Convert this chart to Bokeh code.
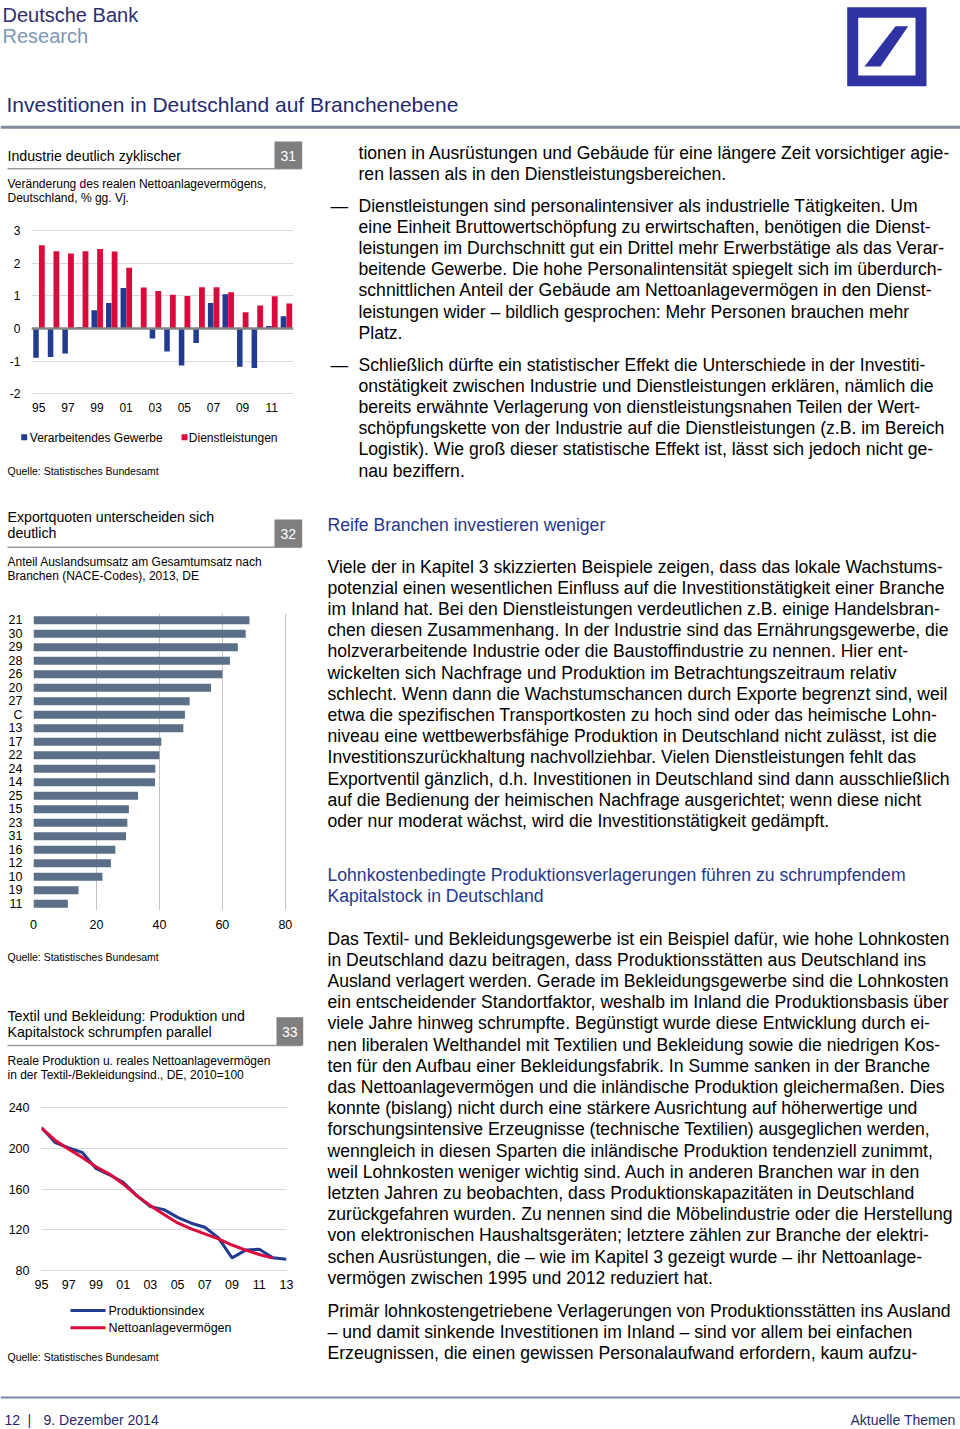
from bokeh.plotting import figure
from bokeh.layouts import column, row
from bokeh.models import Range1d, FactorRange, FixedTicker, CustomJSTickFormatter, Span, ColumnDataSource
from bokeh.transform import dodge
from bokeh.core.properties import value
from bokeh.embed import file_html
from bokeh.resources import INLINE

# ---------------- data ----------------
years31 = list(range(1995, 2013))
manuf31 = [-0.89, -0.87, -0.76, 0.05, 0.56, 0.78, 1.24, 0.0, -0.30, -0.70,
           -1.13, -0.44, 0.78, 1.05, -1.17, -1.21, 0.08, 0.38]
serv31 = [2.55, 2.37, 2.30, 2.37, 2.44, 2.36, 1.86, 1.26, 1.15, 1.04,
          1.00, 1.27, 1.27, 1.11, 0.50, 0.71, 0.99, 0.77]
ticks31_x = [1995, 1997, 1999, 2001, 2003, 2005, 2007, 2009, 2011]
ticks31_y = [-2, -1, 0, 1, 2, 3]

codes32 = ["21", "30", "29", "28", "26", "20", "27", "C", "13", "17", "22",
           "24", "14", "25", "15", "23", "31", "16", "12", "10", "19", "11"]
share32 = [68.6, 67.4, 64.9, 62.4, 60.0, 56.4, 49.6, 48.1, 47.6, 40.6, 40.0,
           38.7, 38.6, 33.2, 30.3, 29.8, 29.4, 26.0, 24.6, 21.9, 14.3, 10.9]
ticks32_x = [0, 20, 40, 60, 80]

years33 = list(range(1995, 2014))
prod33 = [220.4, 205.7, 200.5, 195.9, 180.2, 174.0, 166.5, 153.5, 142.7, 139.8,
          132.2, 126.4, 122.4, 112.0, 92.4, 100.0, 100.8, 92.4, 91.1]
years33n = list(range(1995, 2013))
nav33 = [219.8, 208.0, 199.2, 191.0, 181.9, 174.7, 165.0, 153.5, 143.7, 134.9,
         126.7, 120.8, 116.0, 111.0, 105.0, 100.0, 95.7, 92.1]
ticks33_x = list(range(1995, 2014, 2))
ticks33_y = [80, 120, 160, 200, 240]

FONT = "Liberation Sans"
BLUE = "#213b90"
RED = "#dc0a3c"
NAVY = "#1f2a72"
HEAD = "#26388c"
SLATE = "#5b6f88"
GRID = "#d9d9d9"

# ---------------- helpers ----------------
def canvas(w, h):
    p = figure(width=w, height=h, x_range=Range1d(0, w), y_range=Range1d(h, 0),
               output_backend="svg", toolbar_location=None, min_border=0,
               x_axis_location=None, y_axis_location=None, title=None)
    p.grid.visible = False
    p.outline_line_color = None
    p.background_fill_color = "white"
    p.border_fill_color = "white"
    p.frame_align = False
    return p


def txt(p, x, y, s, size, color="#000000", align="left", baseline="middle"):
    p.text(x=[x], y=[y], text=[s], text_font=value(FONT), text_font_size=f"{size}px",
           text_color=color, text_align=align, text_baseline=baseline)


def lines(p, x, y0, rows, size=17.6, step=21.2, color="#000000"):
    p.text(x=[x] * len(rows), y=[y0 + i * step for i in range(len(rows))], text=rows,
           text_font=value(FONT), text_font_size=f"{size}px", text_color=color,
           text_align="left", text_baseline="middle")


def chart_head(p, title_rows, title_y, box, num, line_y, sub_rows, sub_y):
    for i, t in enumerate(title_rows):
        txt(p, 7, title_y + i * 16, t, 14.2)
    p.segment(x0=[7], y0=[line_y], x1=[301], y1=[line_y], line_color="#9b9b9b", line_width=1.6)
    l, t_, r, b = box
    p.quad(left=[l], right=[r], top=[t_], bottom=[b], fill_color="#7f7f7f", line_color=None)
    txt(p, (l + r) / 2, (t_ + b) / 2 + 0.5, num, 14, "#ffffff", "center", "middle")
    for i, t in enumerate(sub_rows):
        txt(p, 7, sub_y + i * 14.2, t, 12)


def style_axes(p, size):
    for ax in p.axis:
        ax.axis_line_color = None
        ax.major_tick_line_color = None
        ax.minor_tick_line_color = None
        ax.major_tick_out = 0
        ax.major_tick_in = 0
        ax.major_label_text_font = FONT
        ax.major_label_text_font_size = size
        ax.major_label_text_color = "#000000"
    p.outline_line_color = None
    p.background_fill_color = "white"
    p.border_fill_color = "white"
    p.frame_align = False


# ---------------- header ----------------
hdr = canvas(960, 137)
txt(hdr, 2, 14.2, "Deutsche Bank", 20, "#2e2d6e")
txt(hdr, 2, 35.5, "Research", 20, "#7b98b6")
txt(hdr, 6, 103.5, "Investitionen in Deutschland auf Branchenebene", 21, NAVY)
hdr.segment(x0=[0], y0=[126.8], x1=[960], y1=[126.8], line_color="#7f8a9a", line_width=3)
hdr.quad(left=[846.7], right=[926], top=[6.7], bottom=[85.7], fill_color="#2f33a2", line_color=None)
hdr.quad(left=[857.7], right=[915], top=[17.3], bottom=[75], fill_color="white", line_color=None)
hdr.patch(x=[864, 880, 907.7, 895], y=[66, 66, 25.7, 25.7], fill_color="#2f33a2", line_color=None)

# ---------------- chart 31 ----------------
t31 = canvas(318, 85)
chart_head(t31, ["Industrie deutlich zyklischer"], 18, (274, 4, 301.7, 31.3), "31", 31.3,
           ["Veränderung des realen Nettoanlagevermögens,", "Deutschland, % gg. Vj."], 46.3)

src31 = ColumnDataSource(dict(year=years31, manuf=manuf31, serv=serv31))
p31 = figure(width=318, height=203, x_range=Range1d(1994.5, 2012.5), y_range=Range1d(-2.05, 3.25),
             output_backend="svg", toolbar_location=None, title=None,
             min_border_left=31, min_border_right=25, min_border_top=0, min_border_bottom=30)
p31.vbar(x=dodge("year", -0.19), top="manuf", bottom=0, width=0.38, source=src31,
         fill_color=BLUE, line_color=None)
p31.vbar(x=dodge("year", 0.21), top="serv", bottom=0, width=0.40, source=src31,
         fill_color=RED, line_color=None)
p31.add_layout(Span(location=0, dimension="width", line_color="#858585", line_width=2.5))
p31.xaxis.ticker = FixedTicker(ticks=ticks31_x)
p31.xaxis.formatter = CustomJSTickFormatter(code="return String(tick).slice(2);")
p31.yaxis.ticker = FixedTicker(ticks=ticks31_y)
p31.yaxis.formatter = CustomJSTickFormatter(code="return String(tick);")
p31.xgrid.visible = False
p31.ygrid.grid_line_color = GRID
style_axes(p31, "12px")
p31.xaxis.major_label_standoff = 7
p31.yaxis.major_label_standoff = 11

b31 = canvas(318, 65)
b31.quad(left=[20.7], right=[26.7], top=[8.7], bottom=[14.7], fill_color=BLUE, line_color=None)
txt(b31, 29.3, 12, "Verarbeitendes Gewerbe", 12)
b31.quad(left=[181], right=[187], top=[8.7], bottom=[14.7], fill_color=RED, line_color=None)
txt(b31, 188.3, 12, "Dienstleistungen", 12)
txt(b31, 7, 45, "Quelle: Statistisches Bundesamt", 10.5)

# ---------------- chart 32 ----------------
t32 = canvas(318, 116)
chart_head(t32, ["Exportquoten unterscheiden sich", "deutlich"], 26.7, (274, 29, 301.7, 56.7), "32", 56.7,
           ["Anteil Auslandsumsatz am Gesamtumsatz nach", "Branchen (NACE-Codes), 2013, DE"], 71.7)

src32 = ColumnDataSource(dict(code=codes32, share=share32))
p32 = figure(width=318, height=334, x_range=Range1d(0, 81), y_range=FactorRange(factors=codes32[::-1]),
             output_backend="svg", toolbar_location=None, title=None,
             min_border_left=33, min_border_right=30, min_border_top=7, min_border_bottom=30)
p32.hbar(y="code", right="share", left=0, height=0.6, source=src32, fill_color=SLATE, line_color=None)
p32.xaxis.ticker = FixedTicker(ticks=ticks32_x)
p32.ygrid.visible = False
p32.xgrid.grid_line_color = "#c4c4c4"
style_axes(p32, "12.5px")
p32.xaxis.major_label_standoff = 9
p32.yaxis.major_label_standoff = 11

b32 = canvas(318, 35)
txt(b32, 7, 16, "Quelle: Statistisches Bundesamt", 10.5)

# ---------------- chart 33 ----------------
t33 = canvas(318, 124)
chart_head(t33, ["Textil und Bekleidung: Produktion und", "Kapitalstock schrumpfen parallel"], 40,
           (276, 41.7, 302.7, 70), "33", 70,
           ["Reale Produktion u. reales Nettoanlagevermögen", "in der Textil-/Bekleidungsind., DE, 2010=100"], 85.7)

p33 = figure(width=318, height=201, x_range=Range1d(1995, 2013), y_range=Range1d(78, 246),
             output_backend="svg", toolbar_location=None, title=None,
             min_border_left=41, min_border_right=32, min_border_top=2, min_border_bottom=28)
p33.line(years33, prod33, line_color=BLUE, line_width=3)
p33.line(years33n, nav33, line_color=RED, line_width=3)
p33.xaxis.ticker = FixedTicker(ticks=ticks33_x)
p33.xaxis.formatter = CustomJSTickFormatter(code="return String(tick).slice(2);")
p33.yaxis.ticker = FixedTicker(ticks=ticks33_y)
p33.xgrid.visible = False
p33.ygrid.grid_line_color = GRID
style_axes(p33, "12.5px")
p33.xaxis.major_label_standoff = 7
p33.yaxis.major_label_standoff = 12

b33 = canvas(318, 90)
b33.segment(x0=[70, 70], y0=[10, 27.3], x1=[105, 105], y1=[10, 27.3], line_color=[BLUE, RED], line_width=3)
txt(b33, 108, 10.3, "Produktionsindex", 12.5)
txt(b33, 108, 27.6, "Nettoanlagevermögen", 12.5)
txt(b33, 7, 56.7, "Quelle: Statistisches Bundesamt", 10.5)

# ---------------- right text column ----------------
rt = canvas(642, 1253)
OY = 137
OX = 318
lines(rt, 358 - OX, 152 - OY, [
    "tionen in Ausrüstungen und Gebäude für eine längere Zeit vorsichtiger agie-",
    "ren lassen als in den Dienstleistungsbereichen.",
])
txt(rt, 330 - OX, 205 - OY, "—", 17.6)
lines(rt, 358 - OX, 205 - OY, [
    "Dienstleistungen sind personalintensiver als industrielle Tätigkeiten. Um",
    "eine Einheit Bruttowertschöpfung zu erwirtschaften, benötigen die Dienst-",
    "leistungen im Durchschnitt gut ein Drittel mehr Erwerbstätige als das Verar-",
    "beitende Gewerbe. Die hohe Personalintensität spiegelt sich im überdurch-",
    "schnittlichen Anteil der Gebäude am Nettoanlagevermögen in den Dienst-",
    "leistungen wider – bildlich gesprochen: Mehr Personen brauchen mehr",
    "Platz.",
])
txt(rt, 330 - OX, 364 - OY, "—", 17.6)
lines(rt, 358 - OX, 364 - OY, [
    "Schließlich dürfte ein statistischer Effekt die Unterschiede in der Investiti-",
    "onstätigkeit zwischen Industrie und Dienstleistungen erklären, nämlich die",
    "bereits erwähnte Verlagerung von dienstleistungsnahen Teilen der Wert-",
    "schöpfungskette von der Industrie auf die Dienstleistungen (z.B. im Bereich",
    "Logistik). Wie groß dieser statistische Effekt ist, lässt sich jedoch nicht ge-",
    "nau beziffern.",
])
lines(rt, 327 - OX, 524 - OY, ["Reife Branchen investieren weniger"], color=HEAD)
lines(rt, 327 - OX, 566 - OY, [
    "Viele der in Kapitel 3 skizzierten Beispiele zeigen, dass das lokale Wachstums-",
    "potenzial einen wesentlichen Einfluss auf die Investitionstätigkeit einer Branche",
    "im Inland hat. Bei den Dienstleistungen verdeutlichen z.B. einige Handelsbran-",
    "chen diesen Zusammenhang. In der Industrie sind das Ernährungsgewerbe, die",
    "holzverarbeitende Industrie oder die Baustoffindustrie zu nennen. Hier ent-",
    "wickelten sich Nachfrage und Produktion im Betrachtungszeitraum relativ",
    "schlecht. Wenn dann die Wachstumschancen durch Exporte begrenzt sind, weil",
    "etwa die spezifischen Transportkosten zu hoch sind oder das heimische Lohn-",
    "niveau eine wettbewerbsfähige Produktion in Deutschland nicht zulässt, ist die",
    "Investitionszurückhaltung nachvollziehbar. Vielen Dienstleistungen fehlt das",
    "Exportventil gänzlich, d.h. Investitionen in Deutschland sind dann ausschließlich",
    "auf die Bedienung der heimischen Nachfrage ausgerichtet; wenn diese nicht",
    "oder nur moderat wächst, wird die Investitionstätigkeit gedämpft.",
])
lines(rt, 327 - OX, 874 - OY, [
    "Lohnkostenbedingte Produktionsverlagerungen führen zu schrumpfendem",
    "Kapitalstock in Deutschland",
], color=HEAD)
lines(rt, 327 - OX, 938 - OY, [
    "Das Textil- und Bekleidungsgewerbe ist ein Beispiel dafür, wie hohe Lohnkosten",
    "in Deutschland dazu beitragen, dass Produktionsstätten aus Deutschland ins",
    "Ausland verlagert werden. Gerade im Bekleidungsgewerbe sind die Lohnkosten",
    "ein entscheidender Standortfaktor, weshalb im Inland die Produktionsbasis über",
    "viele Jahre hinweg schrumpfte. Begünstigt wurde diese Entwicklung durch ei-",
    "nen liberalen Welthandel mit Textilien und Bekleidung sowie die niedrigen Kos-",
    "ten für den Aufbau einer Bekleidungsfabrik. In Summe sanken in der Branche",
    "das Nettoanlagevermögen und die inländische Produktion gleichermaßen. Dies",
    "konnte (bislang) nicht durch eine stärkere Ausrichtung auf höherwertige und",
    "forschungsintensive Erzeugnisse (technische Textilien) ausgeglichen werden,",
    "wenngleich in diesen Sparten die inländische Produktion tendenziell zunimmt,",
    "weil Lohnkosten weniger wichtig sind. Auch in anderen Branchen war in den",
    "letzten Jahren zu beobachten, dass Produktionskapazitäten in Deutschland",
    "zurückgefahren wurden. Zu nennen sind die Möbelindustrie oder die Herstellung",
    "von elektronischen Haushaltsgeräten; letztere zählen zur Branche der elektri-",
    "schen Ausrüstungen, die – wie im Kapitel 3 gezeigt wurde – ihr Nettoanlage-",
    "vermögen zwischen 1995 und 2012 reduziert hat.",
])
lines(rt, 327 - OX, 1310 - OY, [
    "Primär lohnkostengetriebene Verlagerungen von Produktionsstätten ins Ausland",
    "– und damit sinkende Investitionen im Inland – sind vor allem bei einfachen",
    "Erzeugnissen, die einen gewissen Personalaufwand erfordern, kaum aufzu-",
])

# ---------------- footer ----------------
ft = canvas(960, 39)
ft.segment(x0=[0], y0=[7], x1=[960], y1=[7], line_color="#7a8aa6", line_width=2)
txt(ft, 4, 29, "12", 14, NAVY)
txt(ft, 27, 29, "|", 14, NAVY)
txt(ft, 43, 29, "9. Dezember 2014", 14, NAVY)
txt(ft, 955, 29, "Aktuelle Themen", 14, NAVY, "right")

left = column(t31, p31, b31, t32, p32, b32, t33, p33, b33, spacing=0)
page = column(hdr, row(left, rt, spacing=0), ft, spacing=0)

open("out.html", "w").write(file_html(page, INLINE))
